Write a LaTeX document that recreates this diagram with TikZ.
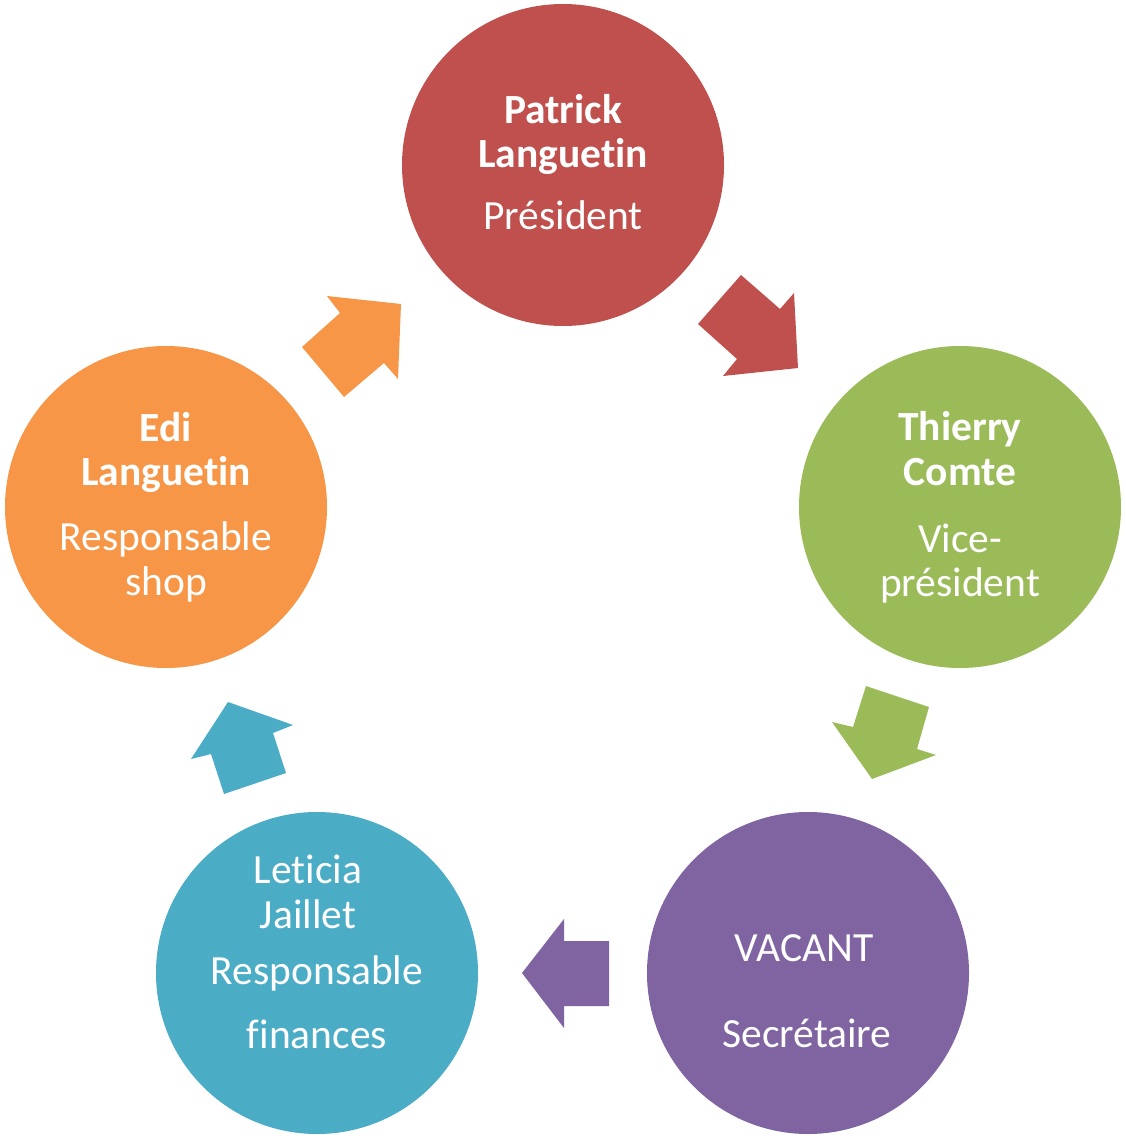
\documentclass[tikz,border=0pt]{standalone}
\usepackage{fontspec}
\setmainfont{Carlito}[RawFeature={-liga;-clig;-dlig}]
\newcommand{\nolig}{\kern0pt }
\definecolor{cred}{HTML}{C0504D}
\definecolor{cgreen}{HTML}{9BBB59}
\definecolor{cpurple}{HTML}{8064A2}
\definecolor{cblue}{HTML}{4BACC6}
\definecolor{corange}{HTML}{F79646}
\begin{document}
\begin{tikzpicture}[x=1pt,y=-1pt,
  disc/.style={circle,inner sep=0pt,minimum size=322pt,fill=#1,draw=none},
  nm/.style={text=white,inner sep=0pt,anchor=base,font=\fontsize{41.5}{48}\selectfont\bfseries},
  rl/.style={text=white,inner sep=0pt,anchor=base,font=\fontsize{41.5}{48}\selectfont},
  blk/.style={fill=#1,draw=none}]
\useasboundingbox (0,0) rectangle (1125,1140);
\fill[white] (0,0) rectangle (1125,1140);
% circles
\node[disc=cred] (pres) at (563,165) {};
\node[disc=cgreen] (vice) at (960,507) {};
\node[disc=cpurple] (secr) at (808,973) {};
\node[disc=cblue] (fin) at (317,973) {};
\node[disc=corange] (shop) at (166,507) {};
% texts
\node[nm] (p1) at (563,123) {Patrick};
\node[nm] (p2) at (563,167) {Languet\nolig in};
\node[rl] (p3) at (563,229) {Président};
\node[nm] (v1) at (960,440) {Thierry};
\node[nm] (v2) at (960,485) {Comte};
\node[rl] (v3) at (960,552) {Vice-};
\node[rl] (v4) at (960,596) {président};
\node[rl] (s1) at (804,961) {VACANT};
\node[rl] (s2) at (807,1047) {Secrétaire};
\node[rl] (f1) at (308,883) {Let\nolig icia};
\node[rl] (f2) at (308,928) {Jaillet};
\node[rl] (f3) at (317,984) {Responsable};
\node[rl] (f4) at (317,1048) {finances};
\node[nm] (e1) at (166,441) {Edi};
\node[nm] (e2) at (166,485) {Languet\nolig in};
\node[rl] (e3) at (166,550) {Responsable};
\node[rl] (e4) at (166,595) {shop};
% block arrows
\fill[blk=cred] (741,275) -- (780,309) -- (794,293) -- (798,368) -- (723,376) -- (737,359) -- (698,324) -- cycle;
\fill[blk=cgreen] (866,686) -- (929,707) -- (917,749) -- (936,755) -- (872,779) -- (832,722) -- (853,727) -- cycle;
\fill[blk=cpurple] (564,919) -- (564,941) -- (609,941) -- (609,1006) -- (564,1006) -- (564,1028) -- (522,973) -- cycle;
\fill[blk=cblue] (228,702) -- (293,725) -- (273,733) -- (286,773) -- (224,794) -- (211,754) -- (191,759) -- cycle;
\fill[blk=corange] (327,296) -- (401,304) -- (398,379) -- (384,363) -- (344,397) -- (302,347) -- (340,313) -- cycle;
\end{tikzpicture}
\end{document}
